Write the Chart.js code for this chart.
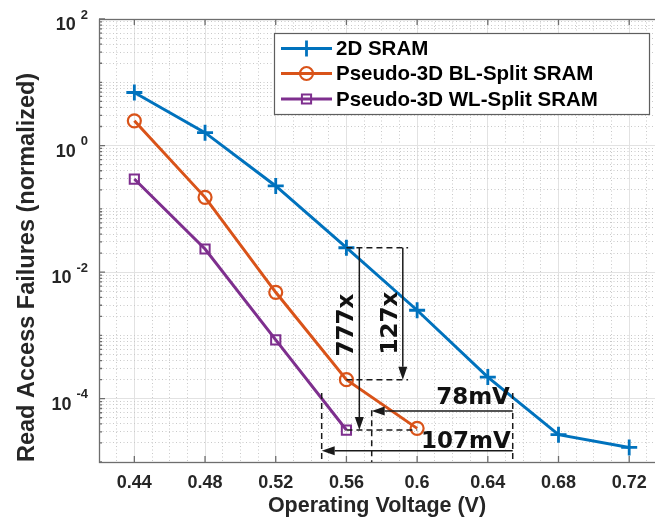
<!DOCTYPE html>
<html><head><meta charset="utf-8">
<script src="https://cdn.jsdelivr.net/npm/chart.js@4/dist/chart.umd.min.js"></script>
<style>html,body{margin:0;padding:0;background:#fff;}#wrap{width:655px;height:521px;}</style>
</head><body><div id="wrap"><canvas id="c" width="655" height="521"></canvas></div>
<script>
// ---- data ----
const voltages2D = [0.44, 0.48, 0.52, 0.56, 0.60, 0.64, 0.68, 0.72];
const failures2D = [6.9, 1.6, 0.23, 0.0243, 2.5e-3, 2.2e-4, 2.7e-5, 1.7e-5];
const voltagesBL = [0.44, 0.48, 0.52, 0.56, 0.60];
const failuresBL = [2.46, 0.152, 4.8e-3, 2.0e-4, 3.4e-5];
const voltagesWL = [0.44, 0.48, 0.52, 0.56];
const failuresWL = [0.296, 0.0232, 8.5e-4, 3.2e-5];
const seriesNames = ['2D SRAM', 'Pseudo-3D BL-Split SRAM', 'Pseudo-3D WL-Split SRAM'];
const xTickValues = [0.44, 0.48, 0.52, 0.56, 0.60, 0.64, 0.68, 0.72];
const yTickExponents = [2, 0, -2, -4];
const xTitle = 'Operating Voltage (V)';
const yTitle = 'Read Access Failures (normalized)';
// annotations (data units)
const annoDashed = [
  [[0.56, 0.0243], [0.5949, 0.0243]],
  [[0.56, 2.0e-4], [0.5949, 2.0e-4]],
  [[0.56, 3.2e-5], [0.60, 3.2e-5]],
  [[0.546, 1.23e-4], [0.546, 1e-5]],
  [[0.5743, 6.6e-5], [0.5743, 1e-5]],
  [[0.6541, 1.23e-4], [0.6541, 1e-5]]
];
const annoArrows = [
  [[0.5673, 0.0243], [0.5673, 3.2e-5]],
  [[0.5919, 0.0243], [0.5919, 2.0e-4]],
  [[0.6541, 6.4e-5], [0.5743, 6.4e-5]],
  [[0.6541, 1.5e-5], [0.546, 1.5e-5]]
];
const annoLabels = ['777x', '127x', '78mV', '107mV'];
const annoLabelPos = [[0.5602, 1.46e-3], [0.5851, 1.57e-3], [0.6525, 1.02e-4], [0.6530, 2.1e-5]];
const annoLabelRot = [true, true, false, false];

// ---- style ----
const FONT = "'Liberation Sans', Arial, Helvetica, sans-serif";
const BLUE = '#0072BD', ORANGE = '#D95319', PURPLE = '#7E2F8E';
const TXT = '#262626';

const xMinorTicks = [];
for (let i = 42; i <= 73; i++) { if ((i - 44) % 4 !== 0) xMinorTicks.push(i / 100); }
const yMinorTicks = [];
for (let e = -5; e <= 1; e++) for (let k = 1; k <= 9; k++) {
  if (k === 1 && yTickExponents.includes(e)) continue;
  yMinorTicks.push(k * Math.pow(10, e));
}
const toXY = (xs, ys) => xs.map((v, i) => ({x: v, y: ys[i]}));
const noPad = s => { s.paddingLeft = 0; s.paddingRight = 0; s.paddingTop = 0; s.paddingBottom = 0; };

const decor = {
  id: 'decor',
  afterDatasetsDraw(chart) {
    const ctx = chart.ctx, xs = chart.scales.x, ys = chart.scales.y, a = chart.chartArea;
    const px = v => xs.getPixelForValue(v), py = v => ys.getPixelForValue(v);
    ctx.save();
    // annotations
    ctx.strokeStyle = '#1a1a1a'; ctx.fillStyle = '#1a1a1a'; ctx.lineWidth = 1.5;
    ctx.setLineDash([6, 4]);
    annoDashed.forEach(([p, q]) => { ctx.beginPath(); ctx.moveTo(px(p[0]), py(p[1])); ctx.lineTo(px(q[0]), py(q[1])); ctx.stroke(); });
    ctx.setLineDash([]);
    annoArrows.forEach(([p, q]) => {
      const x1 = px(p[0]), y1 = py(p[1]), x2 = px(q[0]), y2 = py(q[1]);
      const ang = Math.atan2(y2 - y1, x2 - x1), L = 13, W = 4.5;
      const bx = x2 - L * Math.cos(ang), by = y2 - L * Math.sin(ang);
      ctx.beginPath(); ctx.moveTo(x1, y1); ctx.lineTo(bx, by); ctx.stroke();
      ctx.beginPath(); ctx.moveTo(x2, y2);
      ctx.lineTo(bx + W * Math.sin(ang), by - W * Math.cos(ang));
      ctx.lineTo(bx - W * Math.sin(ang), by + W * Math.cos(ang));
      ctx.closePath(); ctx.fill();
    });
    ctx.font = "bold 23px 'DejaVu Sans', sans-serif"; ctx.fillStyle = '#111';
    annoLabels.forEach((t, i) => {
      const x = px(annoLabelPos[i][0]), y = py(annoLabelPos[i][1]);
      ctx.save(); ctx.translate(x, y);
      if (annoLabelRot[i]) { ctx.rotate(-Math.PI / 2); ctx.textAlign = 'center'; }
      else ctx.textAlign = 'right';
      ctx.textBaseline = 'middle';
      ctx.fillText(t, 0, 0); ctx.restore();
    });
    // box
    ctx.strokeStyle = '#6e6e6e'; ctx.lineWidth = 1.3;
    ctx.strokeRect(a.left + 0.5, a.top + 0.5, a.right - a.left + 4, a.bottom - a.top);
    // inward ticks
    ctx.beginPath();
    xTickValues.forEach(v => { const x = px(v); ctx.moveTo(x, a.bottom); ctx.lineTo(x, a.bottom - 6); ctx.moveTo(x, a.top); ctx.lineTo(x, a.top + 6); });
    yTickExponents.forEach(e => { const y = py(Math.pow(10, e)); ctx.moveTo(a.left, y); ctx.lineTo(a.left + 6, y); });
    yMinorTicks.forEach(v => { const y = py(v); ctx.moveTo(a.left, y); ctx.lineTo(a.left + 3, y); });
    ctx.stroke();
    ctx.restore();
  },
  afterDraw(chart) {
    const ctx = chart.ctx, ys = chart.scales.y;
    ctx.save();
    ctx.fillStyle = TXT; ctx.textBaseline = 'alphabetic';
    yTickExponents.forEach(e => {
      const y = ys.getPixelForValue(Math.pow(10, e));
      const sup = String(e);
      ctx.font = 'bold 13px ' + FONT; const sw = ctx.measureText(sup).width;
      const sx = 88 - sw;
      ctx.textAlign = 'left'; ctx.fillText(sup, sx, y - 0.5);
      ctx.font = 'bold 18px ' + FONT; ctx.textAlign = 'right';
      ctx.fillText('10', sx - 5, y + 11);
    });
    // legend
    const bx = 274.5, by = 33.5, bw = 375, bh = 81;
    ctx.fillStyle = '#fff'; ctx.fillRect(bx, by, bw, bh);
    ctx.strokeStyle = '#5e5e5e'; ctx.lineWidth = 1.2; ctx.strokeRect(bx, by, bw, bh);
    const rows = [48.5, 73.5, 99];
    chart.data.datasets.forEach((ds, i) => {
      const y = rows[i];
      ctx.strokeStyle = ds.borderColor; ctx.lineWidth = ds.borderWidth; ctx.setLineDash([]);
      ctx.beginPath(); ctx.moveTo(281, y); ctx.lineTo(332, y); ctx.stroke();
      ctx.fillStyle = ds.pointBackgroundColor; ctx.strokeStyle = ds.borderColor;
      ctx.lineWidth = ds.pointBorderWidth;
      Chart.helpers.drawPoint(ctx, {pointStyle: ds.pointStyle, radius: ds.pointRadius, rotation: 0, borderWidth: ds.pointBorderWidth}, 306.5, y);
      ctx.fillStyle = '#000'; ctx.font = 'bold 20.5px ' + FONT; ctx.textAlign = 'left'; ctx.textBaseline = 'middle';
      ctx.fillText(ds.label, 336, y + 1);
    });
    ctx.restore();
  }
};

new Chart(document.getElementById('c'), {
  type: 'line',
  data: { datasets: [
    { label: seriesNames[0], data: toXY(voltages2D, failures2D), borderColor: BLUE, backgroundColor: BLUE,
      pointBackgroundColor: BLUE, pointBorderColor: BLUE, borderWidth: 3, pointStyle: 'cross', pointRadius: 8, pointBorderWidth: 2.8 },
    { label: seriesNames[1], data: toXY(voltagesBL, failuresBL), borderColor: ORANGE, backgroundColor: ORANGE,
      pointBackgroundColor: 'rgba(0,0,0,0)', pointBorderColor: ORANGE, borderWidth: 3, pointStyle: 'circle', pointRadius: 6.5, pointBorderWidth: 2.2 },
    { label: seriesNames[2], data: toXY(voltagesWL, failuresWL), borderColor: PURPLE, backgroundColor: PURPLE,
      pointBackgroundColor: 'rgba(0,0,0,0)', pointBorderColor: PURPLE, borderWidth: 3, pointStyle: 'rect', pointRadius: 6.5, pointBorderWidth: 2 }
  ]},
  options: {
    responsive: false, animation: false, devicePixelRatio: 1,
    layout: { autoPadding: false, padding: { top: 19, right: 0, bottom: 0, left: 0 } },
    plugins: { legend: { display: false }, tooltip: { enabled: false } },
    elements: { line: { tension: 0 } },
    scales: {
      x: { type: 'linear', min: 0.42, max: 0.7346, position: 'bottom',
        afterBuildTicks: s => { s.ticks = xTickValues.map(v => ({value: v})); },
        ticks: { callback: v => String(+Number(v).toFixed(2)), font: {family: FONT, size: 18, weight: 'bold'}, color: TXT, padding: 10, maxRotation: 0, autoSkip: false },
        grid: { color: '#e2e2e2', lineWidth: 1, drawTicks: false },
        border: { display: false },
        title: { display: true, text: xTitle, font: {family: FONT, size: 21.5, weight: 'bold'}, color: TXT, padding: {top: 0, bottom: 2} },
        afterFit: s => { s.height = 59; noPad(s); } },
      xMinor: { type: 'linear', min: 0.42, max: 0.7346, position: 'bottom',
        afterBuildTicks: s => { s.ticks = xMinorTicks.map(v => ({value: v})); },
        ticks: { display: false }, grid: { color: '#c9c9c9', lineWidth: 1, drawTicks: false },
        border: { display: false, dash: [1, 2.5] }, afterFit: s => { s.height = 0; noPad(s); } },
      y: { type: 'logarithmic', min: 1e-5, max: 1e2, position: 'left',
        afterBuildTicks: s => { s.ticks = yTickExponents.map(e => ({value: Math.pow(10, e)})); },
        ticks: { display: false }, grid: { color: '#e2e2e2', lineWidth: 1, drawTicks: false },
        border: { display: false },
        title: { display: true, text: yTitle, align: 'start', font: {family: FONT, size: 23.5, weight: 'bold'}, color: TXT, padding: {top: 13, bottom: 0} },
        afterFit: s => { s.width = 99; noPad(s); } },
      yMinor: { type: 'logarithmic', min: 1e-5, max: 1e2, position: 'left',
        afterBuildTicks: s => { s.ticks = yMinorTicks.map(v => ({value: v})); },
        ticks: { display: false }, grid: { color: '#c9c9c9', lineWidth: 1, drawTicks: false },
        border: { display: false, dash: [1, 2.5] }, afterFit: s => { s.width = 0; noPad(s); } }
    }
  },
  plugins: [decor]
});
</script></body></html>
